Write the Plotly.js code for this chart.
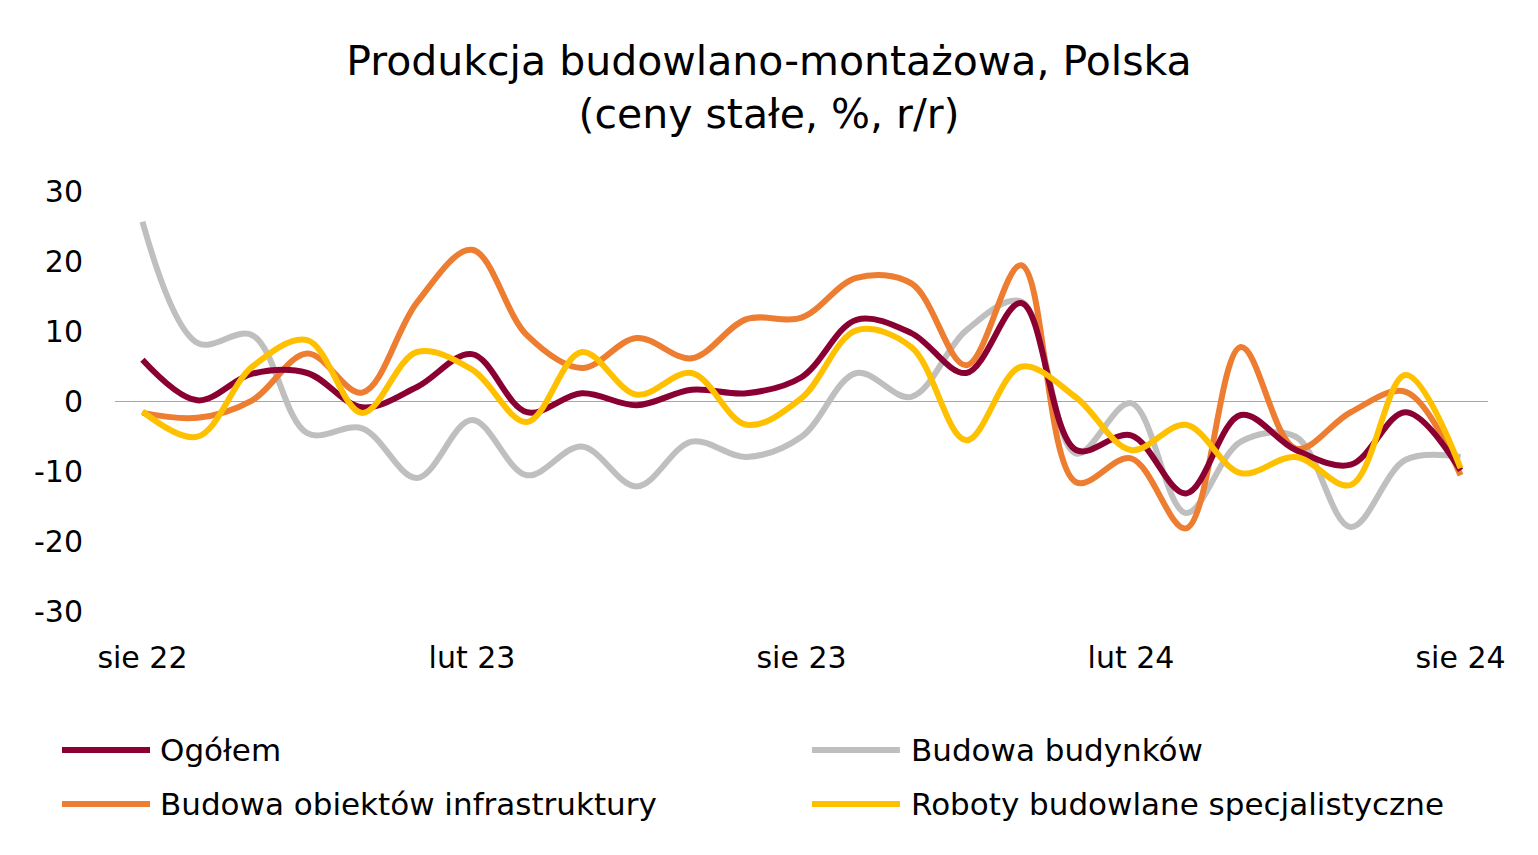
<!DOCTYPE html>
<html>
<head>
<meta charset="utf-8">
<script src="https://cdn.plot.ly/plotly-3.0.1.min.js"></script>
<style>
  html, body { margin: 0; padding: 0; background: #fff; }
  #chart { width: 1538px; height: 855px; }
</style>
</head>
<body>
<div id="chart"></div>
<script>
// months sie 22 .. sie 24 (index 0..24)
const months = ['sie 22','wrz 22','paź 22','lis 22','gru 22','sty 23','lut 23','mar 23','kwi 23','maj 23','cze 23','lip 23',
                'sie 23','wrz 23','paź 23','lis 23','gru 23','sty 24','lut 24','mar 24','kwi 24','maj 24','cze 24','lip 24','sie 24'];
const tickIdx = [0, 6, 12, 18, 24];
const tickText = ['sie 22', 'lut 23', 'sie 23', 'lut 24', 'sie 24'];
const yTicks = [-30, -20, -10, 0, 10, 20, 30];
const yTickText = ['-30', '-20', '-10', '0', '10', '20', '30'];

const ogolem = [5.9, 0.1, 3.9, 4.0, -0.9, 2.0, 6.7, -1.6, 1.1, -0.6, 1.6, 1.1,
                3.4, 11.6, 9.7, 4.0, 14.0, -7.0, -4.9, -13.2, -2.0, -7.0, -9.1, -1.6, -9.9];
const budynki = [25.6, 8.3, 9.4, -4.6, -3.9, -11.0, -2.7, -10.6, -6.5, -12.2, -5.8, -8.0,
                 -5.1, 4.0, 0.6, 10.1, 14.2, -7.5, -0.3, -16.0, -5.8, -5.1, -18.0, -8.4, -8.0];
const infrastruktura = [-1.7, -2.4, 0.1, 6.8, 1.2, 14.1, 21.6, 9.4, 4.7, 9.0, 6.1, 11.7,
                        11.9, 17.6, 16.8, 5.1, 19.4, -11.6, -8.2, -18.2, 7.7, -6.8, -1.6, 1.3, -10.6];
const specjalistyczne = [-1.5, -5.1, 4.9, 8.7, -1.7, 7.0, 4.5, -3.0, 7.0, 0.9, 4.0, -3.4,
                         0.4, 10.1, 7.7, -5.6, 4.9, 0.5, -7.0, -3.4, -10.3, -8.0, -12.0, 3.7, -9.6];

const seriesNames = ['Ogółem', 'Budowa budynków', 'Budowa obiektów infrastruktury', 'Roboty budowlane specjalistyczne'];
const seriesColors = ['#8B0033', '#BFBFBF', '#ED7D31', '#FFC000'];
const seriesData = [ogolem, budynki, infrastruktura, specjalistyczne];
// draw order: grey, orange, red, yellow (yellow on top)
const drawOrder = [1, 2, 0, 3];

const FONT = 'DejaVu Sans, Verdana, sans-serif';
const xIdx = months.map((m, i) => i);

const traces = drawOrder.map(k => ({
    x: xIdx,
    y: seriesData[k],
    type: 'scatter',
    mode: 'lines',
    name: seriesNames[k],
    line: { color: seriesColors[k], width: 6, shape: 'spline', smoothing: 1 },
    customdata: months,
    hovertemplate: '%{customdata}: %{y}<extra>' + seriesNames[k] + '</extra>',
    showlegend: false,
}));

// hand-made legend, two columns like the original
const legendPos = [
    { x0: -0.0386, x1: 0.0255, tx: 0.0313, y: -0.331 },
    { x0: 0.5076, x1: 0.5717, tx: 0.5783, y: -0.331 },
    { x0: -0.0386, x1: 0.0255, tx: 0.0313, y: -0.4595 },
    { x0: 0.5076, x1: 0.5717, tx: 0.5783, y: -0.4595 },
];
const shapes = [];
const annotations = [];
legendPos.forEach((p, k) => {
    shapes.push({
        type: 'line', xref: 'paper', yref: 'paper',
        x0: p.x0, x1: p.x1, y0: p.y, y1: p.y,
        line: { color: seriesColors[k], width: 6 },
    });
    annotations.push({
        xref: 'paper', yref: 'paper', x: p.tx, y: p.y,
        xanchor: 'left', yanchor: 'middle', showarrow: false,
        text: seriesNames[k],
        font: { family: FONT, size: 31, color: '#000' },
    });
});

const layout = {
    width: 1538,
    height: 855,
    paper_bgcolor: '#fff',
    plot_bgcolor: '#fff',
    font: { family: FONT, color: '#000', size: 30 },
    title: {
        text: 'Produkcja budowlano-montażowa, Polska<br>(ceny stałe, %, r/r)',
        font: { family: FONT, size: 41, color: '#000' },
        x: 0.5, xref: 'container', xanchor: 'center',
        y: 1 - 75 / 855, yref: 'container', yanchor: 'top',
    },
    margin: { l: 115, r: 50, t: 191, b: 244 },
    xaxis: {
        range: [-0.5, 24.5],
        tickmode: 'array',
        tickvals: tickIdx,
        ticktext: tickText,
        showgrid: false,
        zeroline: false,
        showline: false,
        ticks: '',
        ticklabelstandoff: 26,
        tickfont: { family: FONT, size: 30, color: '#000' },
    },
    yaxis: {
        range: [-30, 30],
        tickmode: 'array',
        tickvals: yTicks,
        ticktext: yTickText,
        showgrid: false,
        zeroline: true,
        zerolinecolor: '#A6A6A6',
        zerolinewidth: 1,
        showline: false,
        ticks: '',
        ticklabelstandoff: 31,
        tickfont: { family: FONT, size: 30, color: '#000' },
    },
    shapes,
    annotations,
    showlegend: false,
};

Plotly.newPlot('chart', traces, layout, { displayModeBar: false, responsive: false });
</script>
</body>
</html>
